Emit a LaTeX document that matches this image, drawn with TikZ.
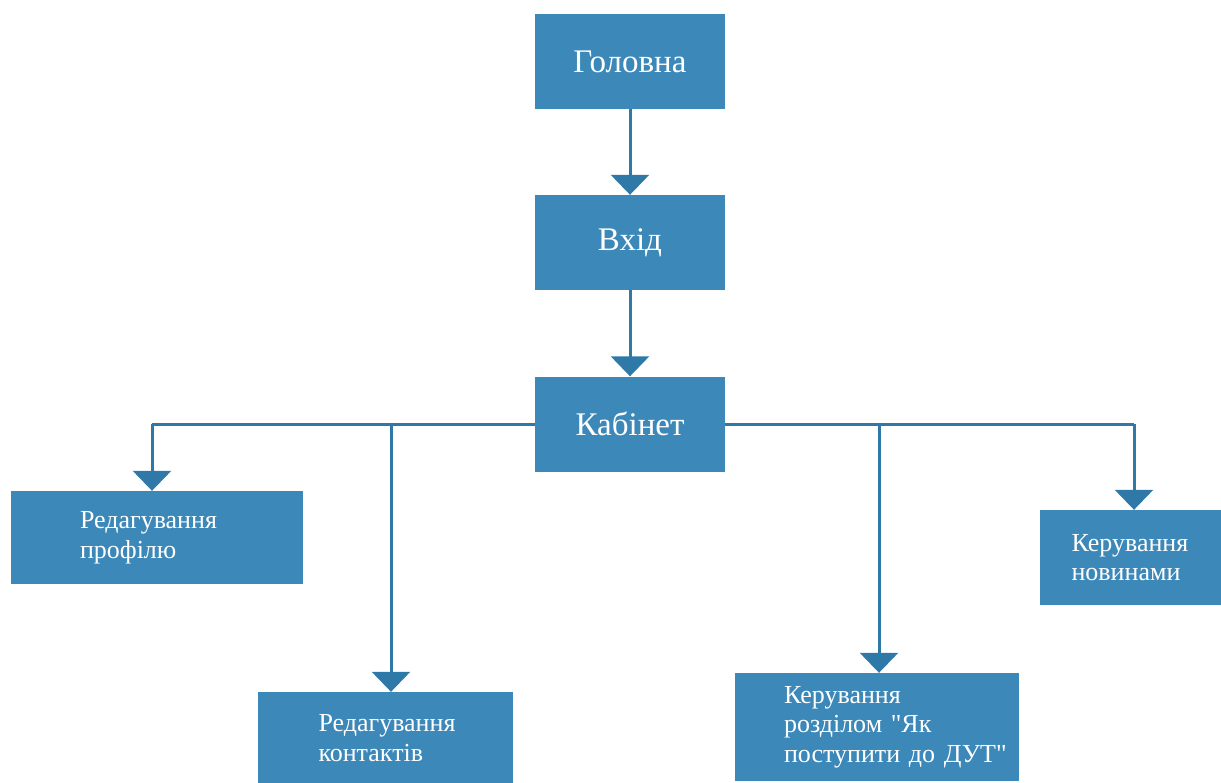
\documentclass[tikz,border=0pt]{standalone}
\usepackage{fontspec}
\setmainfont{Liberation Serif}
\usetikzlibrary{arrows.meta}
\definecolor{boxblue}{RGB}{60,136,185}
\definecolor{lineblue}{RGB}{47,121,168}
\begin{document}
\begin{tikzpicture}[x=1pt,y=-1pt,
  mainbox/.style={fill=boxblue, draw=none, text=white, inner sep=0pt,
    minimum width=190pt, minimum height=95pt,
    font=\fontsize{33}{38}\selectfont},
  subbox/.style={fill=boxblue, draw=none, text=white, inner sep=0pt,
    align=left, font=\fontsize{26}{29.5}\selectfont},
  link/.style={draw=lineblue, line width=3pt},
  arr/.style={link, -{Triangle[width=38pt,length=20pt]}}]
  \clip (0,0) rectangle (1221,782);
  \useasboundingbox (0,0) rectangle (1221,782);

  % top chain
  \node[mainbox] (home)  at (630,61.5)  {Головна};
  \node[mainbox] (login) at (630,242.5) {Вхід};
  \node[mainbox] (cab)   at (630,424)   {Кабінет};

  % cabinet actions
  \node[subbox, text width=154pt, minimum width=292pt, minimum height=93pt]
    (prof) at (157,537.5) {Редагування\\профілю};
  \node[subbox, text width=134pt, minimum width=255pt, minimum height=92pt]
    (cont) at (385.5,738) {Редагування\\контактів};
  \node[subbox, text width=186pt, minimum width=284pt, minimum height=108pt]
    (sect) at (877,727)
    {\mbox{Керування}\\\mbox{розділом \textquotedbl Як}\\\mbox{поступити до ДУТ\textquotedbl}};
  \node[subbox, text width=118pt, minimum width=181pt, minimum height=95pt]
    (news) at (1130.5,557.5) {Керування\\новинами};

  % junction points on the horizontal bus
  \coordinate (jprof) at (152,424);
  \coordinate (jcont) at (391,424);
  \coordinate (jsect) at (879,424);
  \coordinate (jnews) at (1134,424);

  \draw[arr] (home) -- (login);
  \draw[arr] (login) -- (cab);
  \draw[link] (cab.west) -- (jprof);
  \draw[link] (cab.east) -- (jnews);
  \draw[arr] (jprof) -- (jprof |- prof.north);
  \draw[arr] (jcont) -- (jcont |- cont.north);
  \draw[arr] (jsect) -- (jsect |- sect.north);
  \draw[arr] (jnews) -- (jnews |- news.north);
\end{tikzpicture}
\end{document}
